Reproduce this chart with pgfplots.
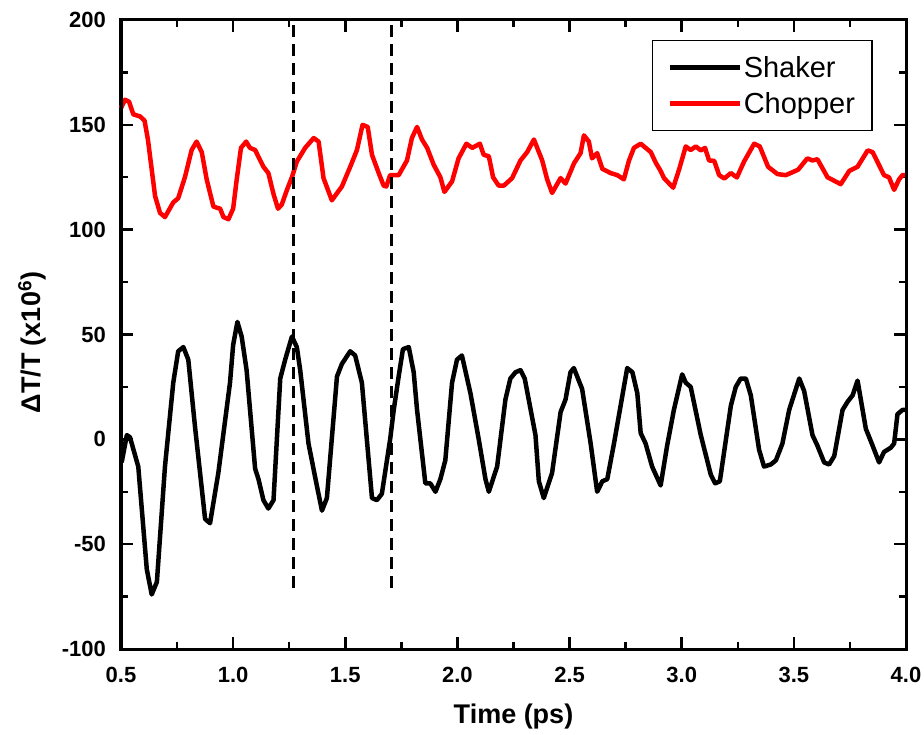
\documentclass[border=0pt]{standalone}
\usepackage{pgfplots}
\pgfplotsset{compat=1.18}
\usepackage{fontspec}
\setmainfont{Liberation Sans}

\pgfplotstableread{
x y
0.503 -11
0.526 2
0.54 1
0.577 -13
0.615 -62
0.637 -74
0.66 -68
0.696 -13
0.733 27
0.755 42
0.778 44
0.80 38
0.83 6
0.875 -38
0.897 -40
0.934 -16
0.986 27
1.0 45
1.019 56
1.038 49
1.06 33
1.098 -14
1.113 -19
1.135 -29
1.157 -33
1.18 -29
1.21 29
1.232 38
1.262 49
1.284 44
1.299 33
1.336 -2
1.373 -22
1.396 -34
1.418 -28
1.463 30
1.485 36
1.522 42
1.544 40
1.574 27
1.619 -28
1.641 -29
1.663 -26
1.70 0
1.716 14
1.738 30
1.757 43
1.783 44
1.805 32
1.82 14
1.857 -21
1.879 -21
1.902 -25
1.924 -19
1.946 -10
1.976 27
1.998 38
2.02 40
2.058 22
2.095 0
2.125 -19
2.14 -25
2.177 -13
2.214 19
2.236 29
2.259 32
2.281 33
2.30 29
2.348 2
2.363 -20
2.385 -28
2.422 -16
2.46 13
2.482 19
2.504 32
2.519 34
2.556 24
2.594 -2
2.623 -25
2.646 -20
2.668 -19
2.698 -2
2.757 34
2.78 32
2.802 22
2.817 3
2.839 -2
2.868 -13
2.906 -22
2.935 -3
2.965 14
3.002 31
3.018 27
3.04 25
3.085 2
3.13 -17
3.149 -21
3.17 -20
3.219 16
3.241 25
3.263 29
3.286 29
3.308 21
3.345 -5
3.367 -13
3.397 -12
3.42 -10
3.449 -2
3.479 14
3.524 29
3.546 23
3.583 2
3.605 -3
3.635 -11
3.657 -12
3.68 -8
3.717 14
3.74 18
3.762 21
3.784 28
3.821 5
3.851 -3
3.88 -11
3.902 -6
3.932 -4
3.947 -2
3.962 12
3.984 14
4.0 14
}\shaker

\pgfplotstableread{
x y
0.50 158
0.518 162
0.536 161
0.555 155
0.585 154
0.605 152
0.62 143
0.652 116
0.674 108
0.696 106
0.733 113
0.755 115
0.785 125
0.815 138
0.837 142
0.86 137
0.882 124
0.912 111
0.942 110
0.957 106
0.979 105
1.0 110
1.016 124
1.035 139
1.058 142
1.075 139
1.098 138
1.135 130
1.157 127
1.18 117
1.2 110
1.217 112
1.24 119
1.262 125
1.284 132.5
1.321 139
1.359 143.7
1.381 142
1.403 124.6
1.44 114
1.485 120.6
1.522 130
1.552 138
1.577 150
1.6 149
1.619 135.7
1.649 127
1.671 121
1.683 120.6
1.70 126
1.738 126
1.775 133
1.797 143.7
1.82 149
1.842 143
1.865 139
1.894 131
1.924 125
1.942 118
1.976 123
2.005 134
2.04 141
2.066 139
2.1 141
2.117 135.7
2.14 135
2.159 125
2.184 121
2.207 121
2.244 124.6
2.281 133
2.311 137
2.341 143
2.378 133
2.40 124
2.422 117.5
2.46 124.6
2.482 122
2.52 131.7
2.549 136.5
2.564 145
2.586 142
2.60 134
2.623 136.5
2.646 129
2.683 127
2.713 126
2.742 124
2.765 133
2.787 139
2.817 141
2.862 137
2.884 132
2.906 128
2.921 124.6
2.962 120
2.988 128.6
3.018 139.7
3.04 138
3.063 139.7
3.085 137.8
3.104 139
3.122 133
3.145 132.8
3.167 126
3.19 124.4
3.219 127
3.246 124.9
3.278 132.5
3.323 141
3.348 139.7
3.385 130
3.427 126.5
3.464 126
3.519 128.6
3.56 134
3.583 133
3.605 133.6
3.65 125
3.709 121.7
3.747 128
3.784 130
3.829 137.8
3.851 137
3.902 126
3.924 125
3.947 119
3.969 124
3.984 126
4.0 126
}\chopper

\begin{document}
\begin{tikzpicture}
\begin{axis}[
  scale only axis,
  width=785pt, height=629pt,
  xmin=0.5, xmax=4.0, ymin=-100, ymax=200,
  clip=false,
  xtick={0.5,1,1.5,2,2.5,3,3.5,4},
  xticklabels={0.5,1.0,1.5,2.0,2.5,3.0,3.5,4.0},
  ytick={-100,-50,0,50,100,150,200},
  yticklabels={-100,-50,0,50,100,150,200},
  minor tick num=1,
  tick align=inside,
  major tick length=12pt,
  minor tick length=7pt,
  major tick style={line width=2.5pt, draw=black},
  minor tick style={line width=2.5pt, draw=black},
  axis line style={line width=3pt, draw=black},
  tick label style={font=\fontsize{22}{26}\selectfont\bfseries},
  xticklabel style={anchor=north, inner sep=0pt, yshift=-18pt},
  yticklabel style={anchor=east, inner sep=0pt, xshift=-15pt},
  xlabel={\textbf{Time (ps)}},
  ylabel={\textbf{ΔT/T (x10\textsuperscript{6})}},
  label style={font=\fontsize{27}{30}\selectfont},
  xlabel style={at={(axis description cs:0.5,0)}, anchor=center, yshift=-68pt},
  ylabel style={at={(axis description cs:0,0.487)}, anchor=center, yshift=89pt},
  legend image code/.code={\draw[#1] (0pt,0pt) -- (70pt,0pt);},
  legend cell align=left,
  legend style={at={(axis description cs:0.676,0.968)}, anchor=north west,
    draw=black, line width=1.2pt, font=\fontsize{29}{32}\selectfont,
    inner xsep=15pt, inner ysep=15pt, row sep=12pt, column sep=0pt,
    nodes={inner sep=2pt, text height=20pt, text depth=0pt}},
]
\addplot[black, line width=4.5pt, line join=round] table[x=x,y=y] {\shaker};
\addlegendentry{Shaker}
\addplot[red, line width=4.5pt, line join=round] table[x=x,y=y] {\chopper};
\addlegendentry{Chopper}
\addplot[black, line width=2.5pt, dash pattern=on 12pt off 7pt, forget plot] coordinates {(1.268,-71) (1.268,200)};
\addplot[black, line width=2.5pt, dash pattern=on 12pt off 7pt, forget plot] coordinates {(1.707,-71) (1.707,200)};
\end{axis}
\draw[line width=3pt, black] (current axis.south west) rectangle (current axis.north east);
\pgfresetboundingbox
\path ([xshift=-121pt,yshift=-85pt]current axis.south west) rectangle ([xshift=18pt,yshift=20pt]current axis.north east);
\end{tikzpicture}
\end{document}
